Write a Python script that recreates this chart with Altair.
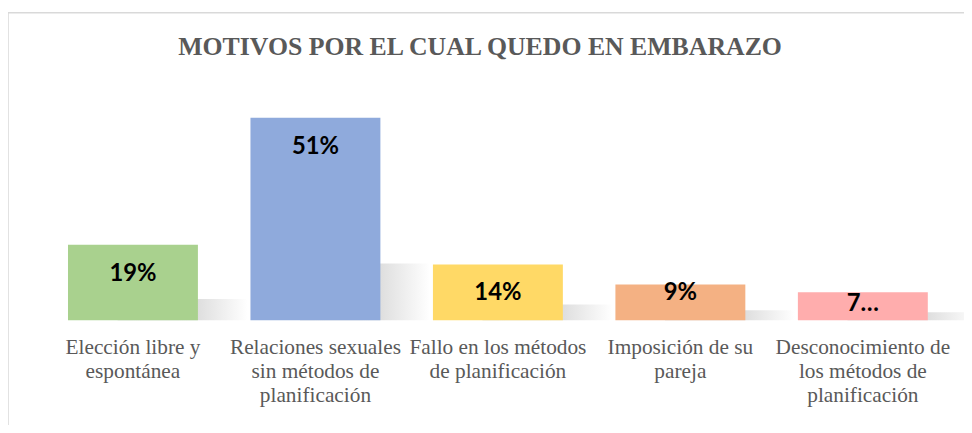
import altair as alt
import pandas as pd

title_text = "MOTIVOS POR EL CUAL QUEDO EN EMBARAZO"
categories = [
    "Elección libre y\nespontánea",
    "Relaciones sexuales\nsin métodos de\nplanificación",
    "Fallo en los métodos\nde planificación",
    "Imposición de su\npareja",
    "Desconocimiento de\nlos métodos de\nplanificación",
]
values = [19, 51, 14, 9, 7]
labels = ["19%", "51%", "14%", "9%", "7…"]
colors = ["#A9D18E", "#8FAADC", "#FFD966", "#F4B183", "#FFADAD"]

df = pd.DataFrame({"cat": categories, "val": values, "lab": labels, "col": colors})

SERIF = "Liberation Serif"

x_enc = alt.X("cat:N", sort=categories,
              scale=alt.Scale(paddingInner=0.288, paddingOuter=0.144),
              axis=alt.Axis(title=None, domain=False, ticks=False, labelAngle=0,
                            labelExpr="split(datum.label, '\\n')",
                            labelFont=SERIF, labelFontSize=21.5,
                            labelColor="#595959", labelLineHeight=24,
                            labelPadding=17, labelLimit=0))
y_scale = alt.Scale(domain=[0, 58], nice=False)

base = alt.Chart(df)
one = base.transform_filter("datum.val == 51")

border = one.mark_rect(fill=None, stroke="#D9D9D9", strokeWidth=1.5).encode(
    x=alt.value(-34), x2=alt.value(960), y=alt.value(-78), y2=alt.value(400)
)

title = one.mark_text(font=SERIF, fontSize=26, fontWeight="bold", color="#595959",
                      align="center", baseline="alphabetic").encode(
    x=alt.value(442), y=alt.value(-35), text=alt.value(title_text)
)

shadow = base.transform_calculate(sh="datum.val * 0.28").mark_bar(
    xOffset=50,
    color={"gradient": "linear", "x1": 0, "x2": 1, "y1": 0, "y2": 0,
           "stops": [{"offset": 0, "color": "#c2c2c2"},
                     {"offset": 0.62, "color": "#cdcdcd"},
                     {"offset": 1, "color": "#ffffff"}]},
    opacity=0.65,
).encode(x=x_enc, y=alt.Y("sh:Q", scale=y_scale, axis=None))

bars = base.mark_bar().encode(
    x=x_enc,
    y=alt.Y("val:Q", scale=y_scale, axis=None),
    color=alt.Color("col:N", scale=None, legend=None),
)

text = base.transform_calculate(
    lp="datum.val >= 10 ? datum.val - 7.3 : datum.val * 1.375 - 5.625"
).mark_text(font="Lato", fontWeight="bold", fontSize=24, color="#000000",
            baseline="middle").encode(
    x=x_enc,
    y=alt.Y("lp:Q", scale=y_scale, axis=None),
    text="lab:N",
)

chart = alt.layer(border, title, shadow, bars, text).properties(
    width=920, height=232,
    padding={"left": 34, "top": 81, "right": 10, "bottom": 104},
    autosize=alt.AutoSizeParams(type="none"),
).configure_view(stroke=None)

chart.save("out.html", embed_options={"renderer": "svg", "actions": False})
